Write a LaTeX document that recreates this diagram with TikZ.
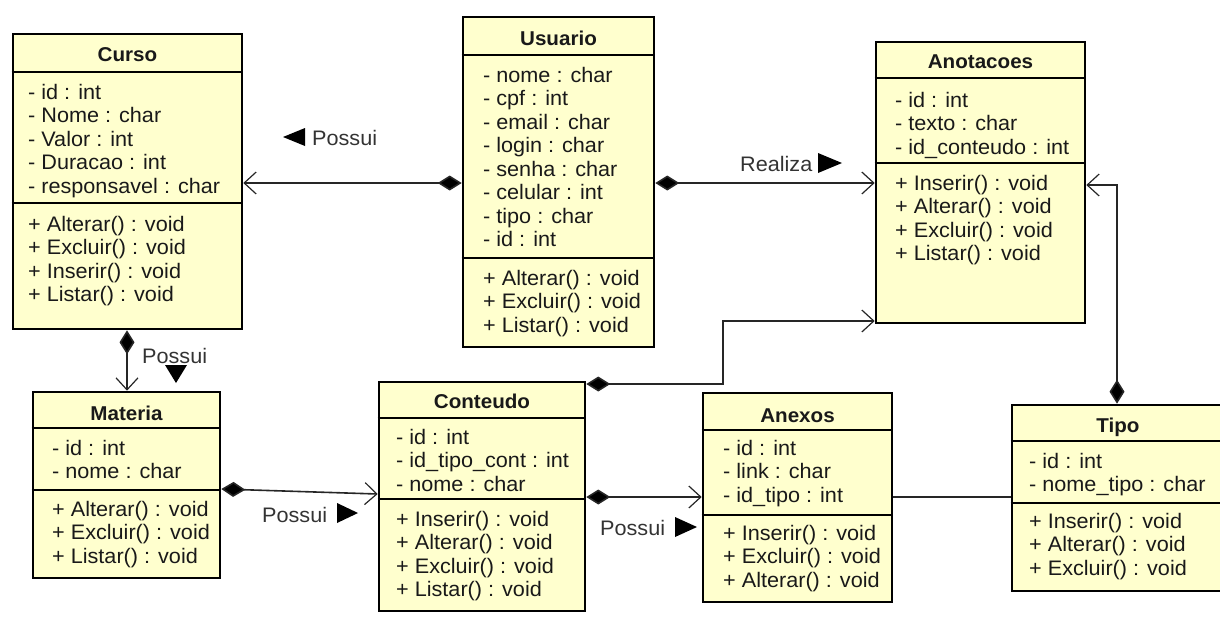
\documentclass[tikz,border=0pt]{standalone}
\usepackage{fontspec}
\setmainfont{Liberation Sans}[FakeStretch=1.03]
\usetikzlibrary{arrows.meta,fit}
\definecolor{clsfill}{RGB}{255,255,206}
\definecolor{ink}{RGB}{25,25,25}
\tikzset{
  cls/.style={draw=black, line width=2.6pt, fill=clsfill, inner sep=0pt},
  sepline/.style={line width=1.6pt},
  ttl/.style={font=\fontsize{20}{24}\selectfont\bfseries, anchor=base, inner sep=0pt, text=ink},
  mem/.style={font=\fontsize{21}{24}\selectfont, anchor=base west, inner sep=0pt, text=ink},
  conn/.style={line width=1.6pt, draw=black!85},
  comp/.style={conn, {Diamond[length=24pt,width=15pt,fill=black]}-{Straight Barb[length=12pt,width=22pt,line width=1.2pt]}},
  lbl/.style={font=\fontsize{21}{24}\selectfont, anchor=base west, inner sep=0pt, text=black!80},
}
\newcommand\members[4]{%
  \foreach \t [count=\i] in {#4} \node[mem] (#1\i) at (#2,{#3+23.5*(\i-1)}) {\t};}
\newcommand\umlclass[9]{% name, x1,y1,x2,y2, s1, s2, title, title baseline
  \node[cls, fit={(#2,#3) (#4,#5)}] (#1) {};
  \draw[sepline] (#1.west |- 0,#6) -- (#1.east |- 0,#6);
  \draw[sepline] (#1.west |- 0,#7) -- (#1.east |- 0,#7);
  \node[ttl] (#1-title) at (#1.north |- 0,#9) {#8};}
\begin{document}
\begin{tikzpicture}[x=1pt,y=-1pt]
\useasboundingbox (0,0) rectangle (1220,622);

% Curso
\umlclass{curso}{13}{34}{242}{329}{72}{203}{Curso}{61}
\members{curso-a}{28}{99}{{- id : int},{- Nome : char},{- Valor : int},{- Duracao : int},{- responsavel : char}}
\members{curso-o}{28}{231}{{+ Alterar() : void},{+ Excluir() : void},{+ Inserir() : void},{+ Listar() : void}}

% Usuario
\umlclass{usuario}{463}{17}{654}{347}{55}{258}{Usuario}{45}
\members{usuario-a}{483}{82}{{- nome : char},{- cpf : int},{- email : char},{- login : char},{- senha : char},{- celular : int},{- tipo : char},{- id : int}}
\members{usuario-o}{483}{285}{{+ Alterar() : void},{+ Excluir() : void},{+ Listar() : void}}

% Anotacoes
\umlclass{anotacoes}{876}{42}{1085}{323}{78}{163}{Anotacoes}{68}
\members{anotacoes-a}{895}{107}{{- id : int},{- texto : char},{- id\_conteudo : int}}
\members{anotacoes-o}{895}{190}{{+ Inserir() : void},{+ Alterar() : void},{+ Excluir() : void},{+ Listar() : void}}

% Materia
\umlclass{materia}{33}{392}{220}{578}{428}{490}{Materia}{420}
\members{materia-a}{52}{455}{{- id : int},{- nome : char}}
\members{materia-o}{52}{516}{{+ Alterar() : void},{+ Excluir() : void},{+ Listar() : void}}

% Conteudo
\umlclass{conteudo}{379}{382}{585}{611}{418}{499}{Conteudo}{408}
\members{conteudo-a}{396}{444}{{- id : int},{- id\_tipo\_cont : int},{- nome : char}}
\members{conteudo-o}{396}{526}{{+ Inserir() : void},{+ Alterar() : void},{+ Excluir() : void},{+ Listar() : void}}

% Anexos
\umlclass{anexos}{703}{393}{892}{602}{430}{515}{Anexos}{422}
\members{anexos-a}{723}{455}{{- id : int},{- link : char},{- id\_tipo : int}}
\members{anexos-o}{723}{540}{{+ Inserir() : void},{+ Excluir() : void},{+ Alterar() : void}}

% Tipo
\umlclass{tipo}{1012}{405}{1224}{591}{441}{503}{Tipo}{432}
\members{tipo-a}{1029}{468}{{- id : int},{- nome\_tipo : char}}
\members{tipo-o}{1029}{528}{{+ Inserir() : void},{+ Alterar() : void},{+ Excluir() : void}}

% connectors
\draw[comp] (usuario.west |- 0,183) -- (curso.east |- 0,183);
\draw[comp] (usuario.east |- 0,183) -- (anotacoes.west |- 0,183);
\draw[comp] (curso.south -| 127,0) -- (materia.north -| 127,0);
\draw[comp] (materia.east |- 0,489) -- (conteudo.west |- 0,494);
\draw[comp] (conteudo.east |- 0,497) -- (anexos.west |- 0,497);
\coordinate (bendA) at (723,321);
\draw[comp] (conteudo.east |- 0,384) -| (bendA) -- (anotacoes.west |- bendA);
\draw[comp] (tipo.north -| 1117,0) |- (anotacoes.east |- 0,185);
\draw[conn] (anexos.east |- 0,497) -- (tipo.west |- 0,497);

% labels
\node[lbl] (lbl1) at (312,145) {Possui};
\fill[black] (283,137) -- (305,128) -- (305,146) -- cycle;
\node[lbl] (lbl2) at (740,171) {Realiza};
\fill[black] (818,153) -- (842,163) -- (818,173) -- cycle;
\node[lbl] (lbl3) at (142,363) {Possui};
\fill[black] (165,365) -- (187,365) -- (176,383) -- cycle;
\node[lbl] (lbl4) at (262,522) {Possui};
\fill[black] (337,503) -- (358,513) -- (337,523) -- cycle;
\node[lbl] (lbl5) at (600,535) {Possui};
\fill[black] (675,517) -- (697,527) -- (675,537) -- cycle;
\end{tikzpicture}
\end{document}
